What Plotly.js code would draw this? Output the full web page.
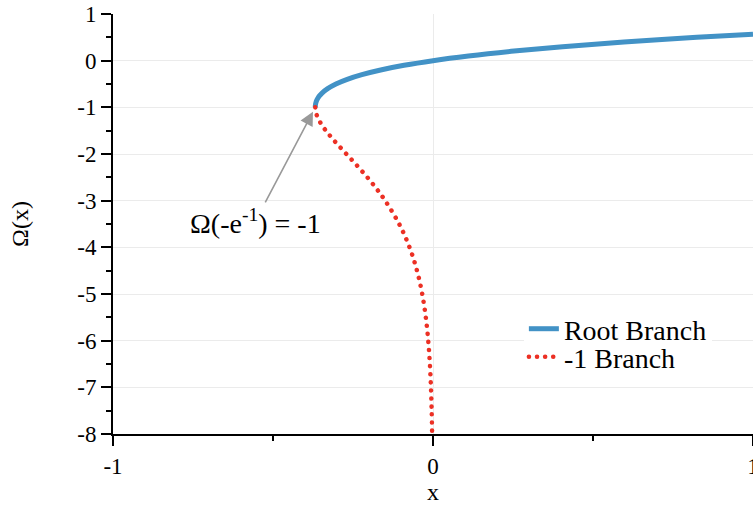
<!DOCTYPE html>
<html>
<head>
<meta charset="utf-8">
<script src="https://cdn.plot.ly/plotly-3.0.1.min.js"></script>
<style>html,body{margin:0;padding:0;background:#fff;}</style>
</head>
<body>
<div id="chart" style="width:753px;height:508px;"></div>
<script>
// Root (principal) branch: x values and Ω(x) values
const rootX = [-0.3679, -0.3674, -0.3659, -0.3633, -0.3595, -0.3543, -0.3476, -0.3293, -0.3033, -0.2681, -0.2222, -0.1637, -0.0905, 0.0, 0.1105, 0.2443, 0.4050, 0.5967, 0.8244, 1.0];
const rootY = [-1.0, -0.95, -0.9, -0.85, -0.8, -0.75, -0.7, -0.6, -0.5, -0.4, -0.3, -0.2, -0.1, 0.0, 0.1, 0.2, 0.3, 0.4, 0.5, 0.567];
// -1 branch
const negX = [-0.3679, -0.3674, -0.3662, -0.3614, -0.3543, -0.3452, -0.3347, -0.3230, -0.3041, -0.2707, -0.2372, -0.2052, -0.1758, -0.1494, -0.1057, -0.0733, -0.0500, -0.0337, -0.0225, -0.0149, -0.0098, -0.0064, -0.0042, -0.0027];
const negY = [-1.0, -1.05, -1.1, -1.2, -1.3, -1.4, -1.5, -1.6, -1.75, -2.0, -2.25, -2.5, -2.75, -3.0, -3.5, -4.0, -4.5, -5.0, -5.5, -6.0, -6.5, -7.0, -7.5, -8.0];
const seriesNames = ["Root Branch", "-1 Branch"];
const xTicks = [-1, 0, 1];
const yTicks = [1, 0, -1, -2, -3, -4, -5, -6, -7, -8];
const branchPoint = {x: -0.3679, y: -1};

const FONT = "Liberation Serif, Times New Roman, serif";

const traces = [
  {x: rootX, y: rootY, name: seriesNames[0], mode: "lines", legend: "legend",
   line: {color: "rgb(66,146,198)", width: 5, shape: "spline"}},
  {x: negX, y: negY, name: seriesNames[1], mode: "lines", legend: "legend2",
   line: {color: "rgb(236,48,36)", width: 4.5, dash: "dot", shape: "spline"}}
];

const layout = {
  width: 753, height: 508,
  margin: {l: 113, r: 0, t: 14, b: 74},
  paper_bgcolor: "#fff", plot_bgcolor: "#fff",
  font: {family: FONT, color: "#000", size: 23},
  showlegend: true,
  legend: {x: 0.642, y: 0.3095, xanchor: "left", yanchor: "top",
           bgcolor: "#fff", font: {size: 28, family: FONT}},
  legend2: {x: 0.642, y: 0.2429, xanchor: "left", yanchor: "top",
           bgcolor: "rgba(0,0,0,0)", font: {size: 28, family: FONT}},
  xaxis: {range: [-1, 1], tickvals: xTicks, ticktext: xTicks.map(String),
          showline: true, linecolor: "#000", linewidth: 2, mirror: false,
          ticks: "outside", ticklen: 10, tickwidth: 2, tickcolor: "#000",
          showgrid: true, gridcolor: "#ebebeb", gridwidth: 1, zeroline: false,
          minor: {dtick: 0.5, ticks: "outside", ticklen: 5, tickwidth: 2, tickcolor: "#000", showgrid: false},
          tickfont: {size: 23, color: "#000"}, automargin: false, ticklabeloverflow: "allow",
          title: {text: "x", font: {size: 24}, standoff: 6}},
  yaxis: {range: [-8, 1], tickvals: yTicks, ticktext: yTicks.map(String),
          showline: true, linecolor: "#000", linewidth: 2, mirror: false,
          ticks: "outside", ticklen: 10, tickwidth: 2, tickcolor: "#000",
          showgrid: true, gridcolor: "#ebebeb", gridwidth: 1, zeroline: false,
          minor: {dtick: 0.5, ticks: "outside", ticklen: 5, tickwidth: 2, tickcolor: "#000", showgrid: false},
          tickfont: {size: 23, color: "#000"}, automargin: false, ticklabeloverflow: "allow",
          title: {text: "Ω(x)", font: {size: 24}, standoff: 42}},
  annotations: [{
    x: branchPoint.x, y: branchPoint.y, xref: "x", yref: "y",
    text: "Ω(-e<sup>-1</sup>) = -1", showarrow: true,
    ax: -60, ay: 114, arrowcolor: "#999", arrowwidth: 1.6, arrowhead: 2, arrowsize: 1.7,
    standoff: 5, font: {size: 28, family: FONT}
  }]
};

Plotly.newPlot("chart", traces, layout, {staticPlot: true}).then(function (gd) {
  // round dots for the dotted branch
  const tr = gd.querySelectorAll(".scatterlayer .trace");
  if (tr[1]) tr[1].querySelectorAll("path.js-line").forEach(p => {
    p.style.strokeLinecap = "round"; p.style.strokeDasharray = "0.1px,8px";
  });
  gd.querySelectorAll("g.legend2 path.js-line").forEach(p => {
    p.style.strokeLinecap = "round"; p.style.strokeDasharray = "0.1px,8px";
  });
  gd.querySelectorAll("g.legend").forEach(g => {
    g.querySelectorAll("path.js-line").forEach(p => {
      if ((p.style.stroke || "").indexOf("236") >= 0) {
        p.style.strokeLinecap = "round"; p.style.strokeDasharray = "0.1px,8px";
      }
    });
  });
});
</script>
</body>
</html>
